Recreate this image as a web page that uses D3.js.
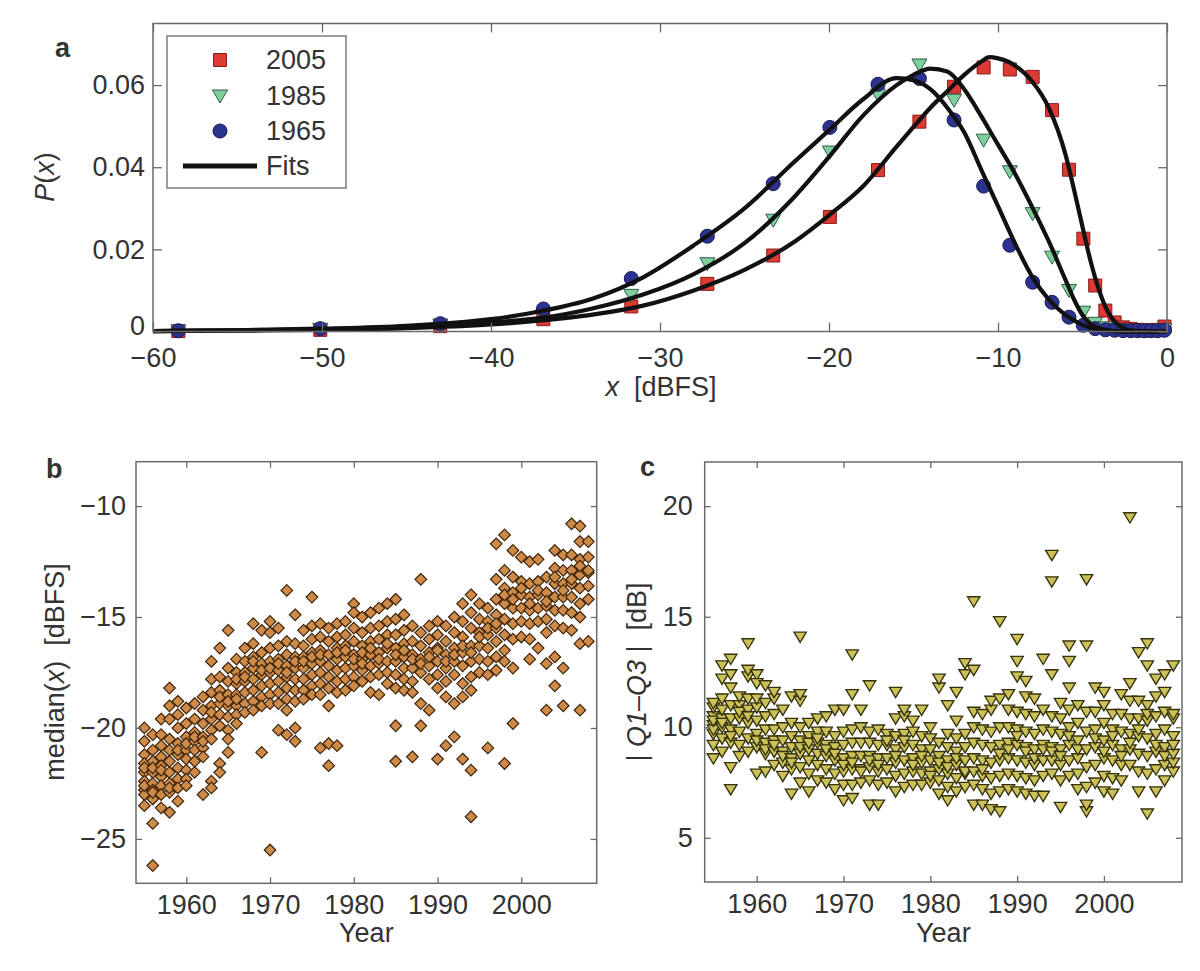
<!DOCTYPE html>
<html><head><meta charset="utf-8">
<script src="https://cdn.jsdelivr.net/npm/d3@7"></script>
<style>
body{margin:0;background:#fff}
svg{display:block}
text{font-family:"Liberation Sans",Arial,Helvetica,sans-serif;fill:#333}
</style>
</head><body>
<svg id="chart" width="1200" height="971"></svg>
<script>
// ---------- Panel a data ----------
const binX = [-58.5,-50.1,-43.0,-36.9,-31.7,-27.2,-23.3,-19.95,-17.1,-14.65,-12.6,-10.85,-9.3,-7.95,-6.8,-5.8,-4.95,-4.25,-3.65,-3.1,-2.6,-2.15,-1.75,-1.35,-0.95,-0.55,-0.15];
const p2005 = [0.0001,0.0004,0.0013,0.0030,0.0061,0.0116,0.0185,0.0279,0.0393,0.0511,0.0596,0.0643,0.0638,0.0620,0.0539,0.0394,0.0226,0.0112,0.0051,0.0022,0.0010,0.0006,0.0004,0.0003,0.0003,0.0004,0.0012];
const p1985 = [0.0001,0.0005,0.0016,0.0040,0.0088,0.0165,0.0271,0.0437,0.0576,0.0649,0.0563,0.0466,0.0389,0.0287,0.0181,0.0100,0.0047,0.0020,0.0009,0.0005,0.0003,0.0002,0.0002,0.0002,0.0002,0.0002,0.0005];
const p1965 = [0.0002,0.0007,0.0019,0.0055,0.0129,0.0232,0.0360,0.0497,0.0602,0.0616,0.0515,0.0354,0.0210,0.0120,0.0071,0.0035,0.0015,0.0007,0.0004,0.0003,0.0002,0.0002,0.0002,0.0002,0.0002,0.0002,0.0003];
const fitX = [-60,-55,-50,-45,-40,-37,-34,-31,-28,-25,-22,-20,-18,-16,-15,-14,-13,-12,-11,-10.5,-10,-9,-8,-7,-6,-5.5,-5,-4.5,-4,-3.5,-3,-2.5,-2,-1,0];
const fit2005 = [0.0001,0.0002,0.0004,0.0008,0.0017,0.0027,0.0041,0.0063,0.0100,0.0150,0.0220,0.0283,0.0353,0.0450,0.0498,0.0545,0.0585,0.0625,0.0657,0.0668,0.0665,0.0648,0.0610,0.0545,0.0430,0.0345,0.0255,0.0168,0.0098,0.0048,0.0020,0.0007,0.0002,0.0000,0.0000];
const fit1985 = [0.0001,0.0003,0.0005,0.0010,0.0022,0.0033,0.0056,0.0090,0.0140,0.0215,0.0330,0.0425,0.0525,0.0600,0.0625,0.0640,0.0633,0.0590,0.0525,0.0490,0.0455,0.0385,0.0305,0.0220,0.0125,0.0078,0.0040,0.0018,0.0008,0.0003,0.0001,0,0,0,0];
const fit1965 = [0.0001,0.0003,0.0007,0.0014,0.0030,0.0050,0.0080,0.0132,0.0210,0.0300,0.0415,0.0490,0.0565,0.0617,0.0612,0.0590,0.0545,0.0485,0.0395,0.0350,0.0305,0.0215,0.0135,0.0078,0.0040,0.0027,0.0016,0.0009,0.0005,0.0002,0.0001,0,0,0,0];
const aXTicks = [-60,-50,-40,-30,-20,-10,0];
const aYTicks = [0,0.02,0.04,0.06];
const legendLabels = ["2005","1985","1965","Fits"];

// ---------- Panels b, c data ----------
const years = [1955,1956,1957,1958,1959,1960,1961,1962,1963,1964,1965,1966,1967,1968,1969,1970,1971,1972,1973,1974,1975,1976,1977,1978,1979,1980,1981,1982,1983,1984,1985,1986,1987,1988,1989,1990,1991,1992,1993,1994,1995,1996,1997,1998,1999,2000,2001,2002,2003,2004,2005,2006,2007,2008];
const medianByYear = [
 [-20.0,-20.6,-21.2,-21.6,-22.0,-22.4,-22.8,-23.0,-23.5,-22.6,-21.8],
 [-20.3,-21.0,-21.5,-22.0,-22.5,-22.8,-23.2,-24.3,-26.2,-21.8,-22.9],
 [-19.6,-20.3,-20.8,-21.3,-21.7,-22.2,-22.6,-23.0,-23.6,-21.9],
 [-18.2,-19.0,-19.6,-20.5,-21.0,-21.5,-22.0,-22.5,-22.9,-23.8,-22.7],
 [-18.8,-19.4,-20.0,-20.7,-21.2,-21.8,-22.3,-22.7,-23.3,-21.0],
 [-19.1,-19.8,-20.4,-21.0,-21.4,-21.9,-22.3,-22.6,-20.7],
 [-18.9,-19.6,-20.2,-20.6,-21.0,-21.5,-22.0,-20.4],
 [-18.6,-19.2,-19.8,-20.4,-20.9,-21.3,-23.0,-20.6],
 [-17.0,-17.8,-18.4,-19.0,-19.6,-20.1,-20.5,-22.4,-22.7,-19.3],
 [-16.4,-17.7,-18.3,-18.9,-19.4,-19.9,-21.6,-22.0,-18.6],
 [-15.6,-17.3,-17.9,-18.5,-19.0,-19.5,-20.1,-20.5,-21.1,-18.8],
 [-16.9,-17.5,-18.0,-18.5,-19.0,-19.4,-19.8,-17.8,-18.7],
 [-16.4,-17.0,-17.5,-17.9,-18.4,-18.9,-19.3,-17.7],
 [-15.3,-16.2,-16.8,-17.3,-17.8,-18.3,-18.8,-19.2,-17.0],
 [-15.6,-16.6,-17.1,-17.6,-18.1,-18.6,-19.0,-21.1,-17.4],
 [-15.2,-15.7,-16.4,-17.0,-17.5,-18.0,-18.5,-18.9,-25.5,-17.3],
 [-15.5,-16.3,-16.9,-17.4,-17.9,-18.4,-18.9,-20.1,-17.1],
 [-13.8,-16.1,-16.7,-17.2,-17.7,-18.2,-18.7,-20.3,-17.5,-19.2],
 [-14.9,-16.2,-16.8,-17.3,-17.8,-18.3,-18.8,-20.0,-20.6,-17.0],
 [-15.6,-16.3,-16.8,-17.3,-17.8,-18.3,-18.7,-17.0],
 [-14.1,-15.4,-16.0,-16.6,-17.1,-17.6,-18.1,-18.5,-16.8],
 [-15.3,-15.9,-16.5,-17.0,-17.5,-18.0,-18.5,-16.7,-20.9],
 [-15.5,-16.1,-16.7,-17.2,-17.7,-18.2,-19.0,-21.7,-20.7],
 [-15.3,-15.9,-16.4,-16.9,-17.4,-17.9,-18.4,-20.8,-16.6],
 [-15.2,-15.8,-16.3,-16.8,-17.3,-17.8,-18.3,-16.5],
 [-14.4,-14.8,-15.5,-16.1,-16.7,-17.2,-17.7,-18.1,-16.9],
 [-15.0,-15.7,-16.3,-16.9,-17.4,-17.9,-16.6,-17.1],
 [-14.8,-15.5,-16.1,-16.7,-17.2,-17.7,-18.4,-16.4],
 [-14.6,-15.4,-16.0,-16.6,-17.1,-17.6,-18.5,-16.9],
 [-14.4,-15.2,-15.8,-16.4,-17.0,-17.5,-18.0,-16.2],
 [-14.2,-15.1,-15.8,-16.4,-17.0,-17.6,-18.2,-19.9,-21.5,-16.7],
 [-14.9,-15.6,-16.2,-16.8,-17.3,-17.8,-18.3,-16.5],
 [-15.4,-16.1,-16.7,-17.3,-17.9,-18.4,-21.3,-16.9],
 [-13.3,-15.7,-16.3,-16.9,-17.5,-18.9,-19.9,-17.1],
 [-15.4,-16.0,-16.6,-17.2,-17.8,-19.2,-16.8],
 [-15.2,-15.8,-16.4,-17.0,-17.6,-18.2,-21.4,-16.5],
 [-15.4,-16.1,-16.7,-17.3,-17.9,-18.6,-20.8,-17.0],
 [-15.0,-15.7,-16.4,-17.0,-17.6,-18.9,-20.4,-16.7],
 [-14.4,-15.2,-15.9,-16.6,-17.2,-18.0,-18.6,-21.4,-16.3],
 [-14.0,-14.8,-15.5,-16.3,-17.0,-17.7,-18.3,-21.9,-24.0,-16.6],
 [-14.4,-15.1,-15.7,-16.3,-16.9,-17.5,-15.9],
 [-14.6,-15.2,-15.8,-16.4,-17.0,-17.6,-20.9,-15.5],
 [-11.7,-13.3,-14.2,-14.9,-15.5,-16.1,-16.8,-17.4,-15.3],
 [-11.3,-12.9,-13.7,-14.4,-15.1,-15.8,-16.5,-17.0,-21.6,-14.0],
 [-12.0,-13.2,-13.9,-14.6,-15.3,-16.0,-17.3,-19.8,-14.2],
 [-12.3,-13.4,-14.0,-14.6,-15.2,-15.9,-13.7],
 [-12.5,-13.5,-14.1,-14.7,-15.3,-16.0,-16.9,-14.4],
 [-12.4,-13.4,-14.0,-14.6,-15.2,-16.4,-13.8],
 [-13.2,-13.9,-14.5,-15.1,-15.7,-17.1,-19.2,-14.3],
 [-12.0,-12.8,-13.5,-14.1,-14.7,-15.4,-16.8,-18.1,-13.2],
 [-12.2,-12.9,-13.5,-14.1,-14.7,-15.5,-17.3,-19.0,-13.8],
 [-10.8,-12.2,-12.9,-13.5,-14.1,-14.8,-15.6,-13.3],
 [-10.9,-11.6,-12.4,-13.1,-13.7,-14.4,-15.0,-16.2,-19.2,-12.7],
 [-11.6,-12.3,-13.0,-13.6,-14.2,-16.1,-12.9]
];
const iqrByYear = [
 [8.6,9.2,9.7,10.1,10.5,10.9,11.1,9.9,10.3],
 [8.9,9.5,10.0,10.4,10.8,11.3,12.2,12.8,10.2],
 [7.2,8.2,9.3,9.9,10.4,11.0,11.8,12.4,13.1,9.6],
 [8.7,9.2,9.8,10.4,11.0,11.4,10.7],
 [8.9,9.5,10.2,10.8,11.3,12.3,12.6,13.8,10.5],
 [7.9,9.1,9.7,10.3,10.9,11.3,12.4,12.0,9.4],
 [8.0,8.8,9.3,9.9,10.5,11.1,11.9,9.0],
 [8.3,8.9,9.4,9.9,10.6,11.3,11.6,9.2],
 [7.8,8.4,8.9,9.4,10.0,10.8,8.7],
 [7.0,8.1,8.6,9.1,9.6,10.2,11.4,8.4],
 [7.5,8.2,8.8,9.4,10.0,11.2,11.5,14.1,9.1],
 [7.1,7.9,8.5,9.0,9.6,10.2,9.3],
 [7.6,8.3,8.8,9.3,9.8,10.4,9.5],
 [7.5,8.1,8.7,9.2,9.8,10.5,9.0],
 [7.2,7.9,8.5,9.1,9.6,10.8,8.8],
 [6.7,7.4,8.0,8.6,9.2,9.8,10.8,8.3],
 [6.8,7.4,8.1,8.7,9.3,9.9,11.5,13.3,8.4],
 [7.5,8.1,8.7,9.3,10.0,10.8,8.0],
 [6.5,7.6,8.2,8.7,9.3,9.8,11.9,8.5],
 [6.5,7.4,8.0,8.6,9.2,9.9,8.3],
 [7.5,8.1,8.6,9.2,9.7,9.4],
 [7.1,7.8,8.4,9.0,9.6,10.4,11.6,8.7],
 [7.3,7.9,8.5,9.1,9.7,10.5,10.8,9.4],
 [7.4,8.0,8.6,9.2,9.8,10.3,8.3],
 [7.4,7.9,8.4,9.0,9.6,10.8,8.7],
 [7.5,8.0,8.5,9.0,9.5,10.0,7.8],
 [7.0,7.6,8.1,8.7,9.3,11.8,12.2,8.4],
 [6.7,7.3,7.9,8.5,9.1,9.7,11.0,8.2],
 [7.1,7.7,8.3,8.9,9.5,10.3,11.6,8.6],
 [7.3,7.9,8.5,9.1,9.7,12.4,12.9,8.0],
 [6.5,7.4,8.0,8.6,9.3,10.0,10.7,15.7,12.6],
 [6.5,7.2,7.8,8.5,9.2,9.9,10.6,8.1],
 [6.3,7.0,7.7,8.4,9.1,9.8,10.8,11.2],
 [6.2,7.1,7.8,8.5,9.2,10.0,11.3,14.8,8.8],
 [7.2,7.9,8.6,9.3,10.0,10.8,11.5,9.0],
 [7.1,7.8,8.5,9.2,9.9,10.7,12.3,13.0,14.0,9.6],
 [7.0,7.7,8.4,9.1,9.8,10.6,11.4,12.1,8.9],
 [6.9,7.6,8.3,9.0,9.7,10.5,11.3,8.6],
 [6.9,7.8,8.5,9.2,9.9,10.8,13.1,9.0],
 [7.9,8.5,9.1,9.8,10.5,12.4,16.6,17.8,8.9],
 [6.4,7.6,8.3,9.0,9.7,10.4,11.1,8.7],
 [7.8,8.5,9.2,10.0,10.8,11.8,13.0,13.7,9.6],
 [7.2,7.9,8.6,9.4,10.2,11.0,9.0],
 [6.2,6.5,7.3,8.2,9.0,9.8,10.7,13.7,16.7],
 [7.5,8.3,9.1,9.9,10.7,11.8,9.5],
 [7.1,7.8,8.6,9.4,10.2,11.0,11.6,8.9],
 [7.0,7.7,8.5,9.2,9.9,10.6,9.6],
 [7.6,8.3,9.0,9.8,10.6,11.5,8.7],
 [8.3,9.0,9.7,10.4,11.2,12.0,19.5,9.3],
 [7.1,8.0,8.8,9.6,10.4,11.2,13.4,9.9],
 [6.1,7.9,8.7,9.5,10.3,11.0,12.8,13.8,10.6],
 [7.1,8.1,8.9,9.7,10.5,11.4,12.2,9.2],
 [7.6,8.3,9.1,9.9,10.7,11.6,12.4,8.7],
 [8.0,8.4,8.8,9.6,10.4,10.6,12.8,9.2]
];
const yearTicks = [1960,1970,1980,1990,2000];
const bYTicks = [-25,-20,-15,-10];
const cYTicks = [5,10,15,20];

// ---------- drawing ----------
const svg = d3.select("#chart");
const FS = 27;
const minus = v => (v < 0 ? "\u2212" + Math.abs(v) : String(v));
const frameColor = "#6a6a6a";

function frame(g, x, y, tick, fmtX, fmtY, xTicks, yTicks, padX, padY) {
  const [x0, x1] = x.range(), [y0, y1] = y.range();
  const ax = g.append("g").attr("transform", `translate(0,${y0})`)
    .call(d3.axisBottom(x).tickValues(xTicks).tickSize(-tick).tickSizeOuter(0).tickPadding(padX).tickFormat(fmtX));
  const at = g.append("g").attr("transform", `translate(0,${y1})`)
    .call(d3.axisTop(x).tickValues(xTicks).tickSize(-tick).tickSizeOuter(0).tickFormat(""));
  const ay = g.append("g").attr("transform", `translate(${x0},0)`)
    .call(d3.axisLeft(y).tickValues(yTicks).tickSize(-tick).tickSizeOuter(0).tickPadding(padY).tickFormat(fmtY));
  const ar = g.append("g").attr("transform", `translate(${x1},0)`)
    .call(d3.axisRight(y).tickValues(yTicks).tickSize(-tick).tickSizeOuter(0).tickFormat(""));
  [ax, at, ay, ar].forEach(a => {
    a.select(".domain").remove();
    a.selectAll("line").attr("stroke", frameColor).attr("stroke-width", 1.3);
    a.selectAll("text").attr("font-size", FS).attr("fill", "#333")
      .style("font-family", '"Liberation Sans",Arial,sans-serif');
  });
  g.append("rect").attr("x", x0).attr("y", y1).attr("width", x1 - x0).attr("height", y0 - y1)
    .attr("fill", "none").attr("stroke", frameColor).attr("stroke-width", 1.5);
  return ay;
}

// ===== Panel a =====
const xa = d3.scaleLinear().domain([-60, 0]).range([153, 1167]);
const ya = d3.scaleLinear().domain([0, 0.075]).range([331.5, 23.5]);
const ga = svg.append("g");

const sqPath = "M-6.5,-6.5H6.5V6.5H-6.5Z";
const triPath = "M-7.5,-6H7.5L0,7Z";
const series = [
  {vals: p2005, kind: "sq", fill: "#dc3a33", stroke: "#8a1c18"},
  {vals: p1985, kind: "tri", fill: "#7dcf9c", stroke: "#2e5e45"},
  {vals: p1965, kind: "circ", fill: "#2c3290", stroke: "#181a55"}
];
series.forEach(s => {
  const pts = binX.map((x, i) => [x, s.vals[i]]);
  const sel = ga.append("g").selectAll("path").data(pts).join("path")
    .attr("transform", d => `translate(${xa(d[0])},${ya(d[1])})`)
    .attr("fill", s.fill).attr("stroke", s.stroke).attr("stroke-width", 1);
  if (s.kind === "sq") sel.attr("d", sqPath);
  else if (s.kind === "tri") sel.attr("d", triPath);
  else sel.attr("d", d3.symbol(d3.symbolCircle, Math.PI * 49)());
});
const line = d3.line().x(d => xa(d[0])).y(d => ya(d[1])).curve(d3.curveMonotoneX);
[fit2005, fit1985, fit1965].forEach(f => {
  ga.append("path").datum(fitX.map((x, i) => [x, f[i]]))
    .attr("d", line).attr("fill", "none").attr("stroke", "#111").attr("stroke-width", 4.2)
    .attr("stroke-linejoin", "round");
});
const aLeft = frame(ga, xa, ya, 9, minus, d => (d === 0 ? "0" : d.toFixed(2)), aXTicks, aYTicks, 16, 8);
// lift the "0" label slightly so it does not touch the "−60" label below it
aLeft.selectAll(".tick text").filter(d => d === 0).attr("dy", "0.12em");

// legend
const lg = ga.append("g");
lg.append("rect").attr("x", 167).attr("y", 36).attr("width", 179).attr("height", 152)
  .attr("fill", "#fff").attr("stroke", frameColor).attr("stroke-width", 1.3);
const legY = [60, 96, 131, 166];
legendLabels.forEach((lab, i) => {
  lg.append("text").attr("x", 266).attr("y", legY[i]).attr("dy", "0.35em")
    .attr("font-size", FS).text(lab);
});
lg.append("path").attr("d", sqPath).attr("transform", `translate(220,${legY[0]})`)
  .attr("fill", series[0].fill).attr("stroke", series[0].stroke);
lg.append("path").attr("d", triPath).attr("transform", `translate(220,${legY[1]})`)
  .attr("fill", series[1].fill).attr("stroke", series[1].stroke);
lg.append("path").attr("d", d3.symbol(d3.symbolCircle, Math.PI * 49)()).attr("transform", `translate(220,${legY[2]})`)
  .attr("fill", series[2].fill).attr("stroke", series[2].stroke);
lg.append("line").attr("x1", 183).attr("x2", 257).attr("y1", legY[3]).attr("y2", legY[3])
  .attr("stroke", "#111").attr("stroke-width", 5);

// labels
svg.append("text").attr("x", 55).attr("y", 57).attr("font-size", 27).attr("font-weight", "bold").attr("fill", "#222").text("a");
const pl = svg.append("text").attr("transform", "translate(54,177) rotate(-90)").attr("text-anchor", "middle").attr("font-size", FS);
pl.append("tspan").attr("font-style", "italic").text("P");
pl.append("tspan").text("(");
pl.append("tspan").attr("font-style", "italic").text("x");
pl.append("tspan").text(")");
const xl = svg.append("text").attr("x", 661).attr("y", 396).attr("text-anchor", "middle").attr("font-size", FS);
xl.append("tspan").attr("font-style", "italic").text("x");
xl.append("tspan").text("\u00a0 [dBFS]");

// ===== Panel b =====
const xb = d3.scaleLinear().domain([1954, 2009]).range([136, 596.7]);
const yb = d3.scaleLinear().domain([-27, -8]).range([883.3, 461.7]);
const gb = svg.append("g");
const bPts = [];
years.forEach((yr, i) => medianByYear[i].forEach(v => bPts.push([yr, v])));
gb.append("g").selectAll("path").data(bPts).join("path")
  .attr("d", "M0,-5.8L5.8,0L0,5.8L-5.8,0Z")
  .attr("transform", d => `translate(${xb(d[0])},${yb(d[1])})`)
  .attr("fill", "#cd8a48").attr("stroke", "#3e240a").attr("stroke-width", 1.2);
frame(gb, xb, yb, 6, d => String(d), minus, yearTicks, bYTicks, 12, 10);
svg.append("text").attr("x", 46).attr("y", 478).attr("font-size", 27).attr("font-weight", "bold").attr("fill", "#222").text("b");
const bl = svg.append("text").attr("transform", "translate(64,672) rotate(-90)").attr("text-anchor", "middle").attr("font-size", FS);
bl.append("tspan").text("median(");
bl.append("tspan").attr("font-style", "italic").text("x");
bl.append("tspan").text(")\u00a0 [dBFS]");
svg.append("text").attr("x", (136 + 596.7) / 2).attr("y", 942).attr("text-anchor", "middle").attr("font-size", FS).text("Year");

// ===== Panel c =====
const xc = d3.scaleLinear().domain([1954, 2009]).range([704.7, 1182]);
const yc = d3.scaleLinear().domain([3, 22]).range([882, 462]);
const gc = svg.append("g");
const cPts = [];
years.forEach((yr, i) => iqrByYear[i].forEach(v => cPts.push([yr, v])));
gc.append("g").selectAll("path").data(cPts).join("path")
  .attr("d", "M-6.2,-4.5H6.2L0,5.8Z")
  .attr("transform", d => `translate(${xc(d[0])},${yc(d[1])})`)
  .attr("fill", "#cbc158").attr("stroke", "#35320b").attr("stroke-width", 1.35);
frame(gc, xc, yc, 6, d => String(d), d => String(d), yearTicks, cYTicks, 12, 12);
svg.append("text").attr("x", 640).attr("y", 476).attr("font-size", 27).attr("font-weight", "bold").attr("fill", "#222").text("c");
const cl = svg.append("text").attr("transform", "translate(646,672) rotate(-90)").attr("text-anchor", "middle").attr("font-size", FS);
cl.append("tspan").text("| ");
cl.append("tspan").attr("font-style", "italic").text("Q1");
cl.append("tspan").text("\u2013");
cl.append("tspan").attr("font-style", "italic").text("Q3");
cl.append("tspan").text(" |\u00a0 [dB]");
svg.append("text").attr("x", (704.7 + 1182) / 2).attr("y", 942).attr("text-anchor", "middle").attr("font-size", FS).text("Year");
</script>
</body></html>
